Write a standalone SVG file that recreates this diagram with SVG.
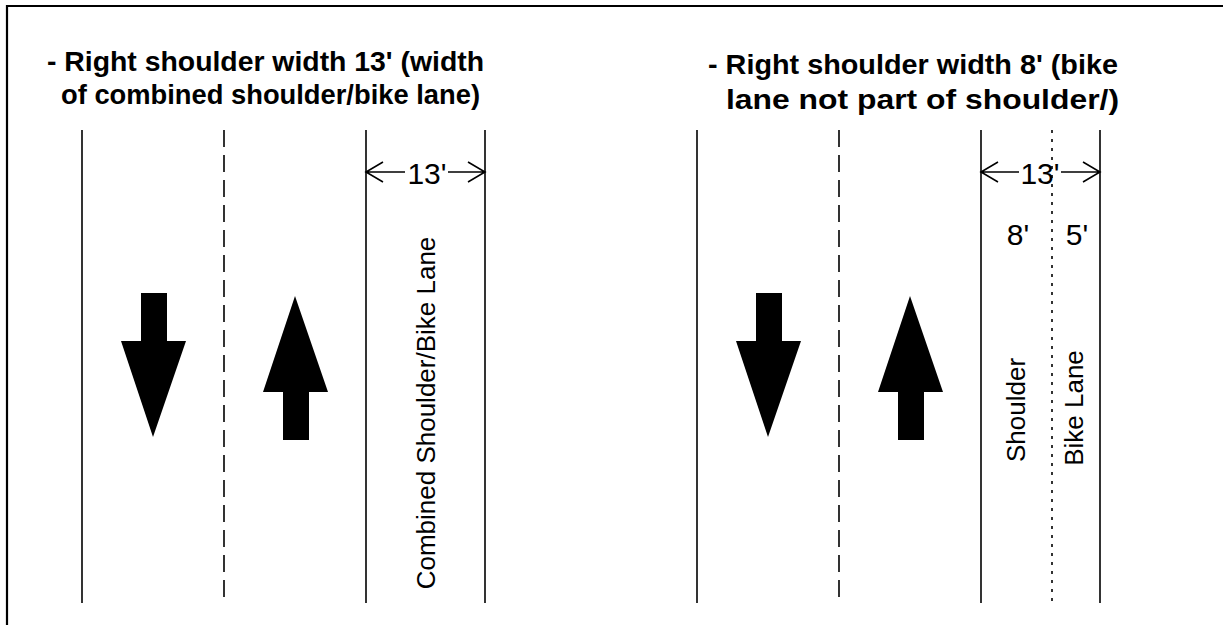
<svg xmlns="http://www.w3.org/2000/svg" width="1223" height="625" viewBox="0 0 1223 625">
<style>
.ln{stroke:#000;stroke-width:1.6;fill:none}
.dash{stroke:#000;stroke-width:1.6;fill:none;stroke-dasharray:17 8}
.dot{stroke:#000;stroke-width:1.6;fill:none;stroke-dasharray:3 6}
.title{font-family:"Liberation Sans",Arial,sans-serif;font-weight:bold;font-size:28px;fill:#000}
.num{font-family:"Liberation Sans",Arial,sans-serif;font-size:30px;fill:#000}
.vt{font-family:"Liberation Sans",Arial,sans-serif;font-size:26px;fill:#000}
.ar{fill:#000}
</style>
<rect width="1223" height="625" fill="#fff"/>
<path d="M7 625 V6 H1223" stroke="#000" stroke-width="2.2" fill="none"/>
<g id="left-panel">
  <text class="title" x="47" y="71" textLength="437" lengthAdjust="spacingAndGlyphs">- Right shoulder width 13' (width</text>
  <text class="title" x="61" y="104" textLength="419" lengthAdjust="spacingAndGlyphs">of combined shoulder/bike lane)</text>
  <line class="ln" x1="82" y1="130" x2="82" y2="603"/>
  <line class="dash" x1="224" y1="130" x2="224" y2="603"/>
  <line class="ln" x1="366" y1="130" x2="366" y2="603"/>
  <line class="ln" x1="485" y1="130" x2="485" y2="603"/>
  <polygon class="ar" points="141,293 167,293 167,341 186,341 153,437 121,341 141,341"/>
  <polygon class="ar" points="295,296 328,392 309,392 309,440 283,440 283,392 263,392"/>
  <text class="vt" transform="translate(435,413) rotate(-90)" text-anchor="middle">Combined Shoulder/Bike Lane</text>
</g>
<g id="right-panel">
  <text class="title" x="708" y="74" textLength="410" lengthAdjust="spacingAndGlyphs">- Right shoulder width 8' (bike</text>
  <text class="title" x="726" y="109" textLength="393" lengthAdjust="spacingAndGlyphs">lane not part of shoulder/)</text>
  <line class="ln" x1="697" y1="130" x2="697" y2="603"/>
  <line class="dash" x1="839" y1="130" x2="839" y2="603"/>
  <line class="ln" x1="981" y1="130" x2="981" y2="603"/>
  <line class="dot" x1="1052" y1="130" x2="1052" y2="603"/>
  <line class="ln" x1="1100" y1="130" x2="1100" y2="603"/>
  <polygon class="ar" points="756,293 782,293 782,341 801,341 768,437 736,341 756,341"/>
  <polygon class="ar" points="910,296 943,392 924,392 924,440 898,440 898,392 878,392"/>
  <text class="num" x="1018" y="245" text-anchor="middle">8'</text>
  <text class="num" x="1077" y="245" text-anchor="middle">5'</text>
  <text class="vt" transform="translate(1025,410) rotate(-90)" text-anchor="middle">Shoulder</text>
  <text class="vt" transform="translate(1083,408) rotate(-90)" text-anchor="middle">Bike Lane</text>
</g>
<g id="connectors">
  <path class="ln" d="M366 172 H405 M448 172 H485 M383 162 L366 172 L383 182 M468 162 L485 172 L468 182"/>
  <path class="ln" d="M981 172 H1019 M1061 172 H1100 M998 162 L981 172 L998 182 M1083 162 L1100 172 L1083 182"/>
  <text class="num" x="427" y="184" text-anchor="middle">13'</text>
  <text class="num" x="1040" y="184" text-anchor="middle">13'</text>
</g>
</svg>
